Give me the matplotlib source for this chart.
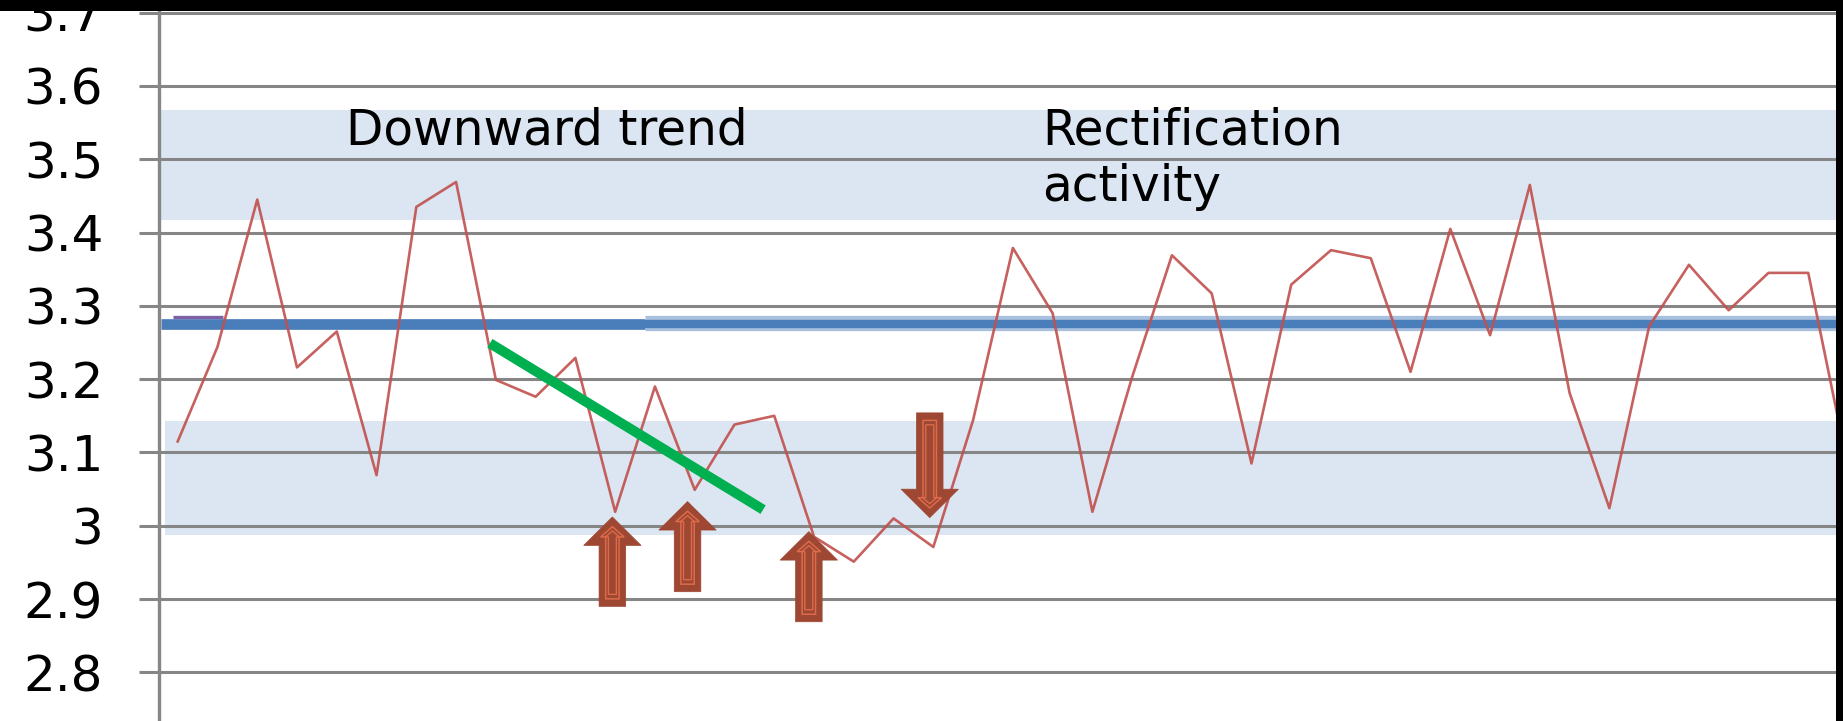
import matplotlib
matplotlib.use("Agg")
import matplotlib.pyplot as plt
from matplotlib.patches import Polygon, Rectangle
from matplotlib.ticker import FuncFormatter

# weekly readings (red line), one per category position
values = [3.115, 3.244, 3.445, 3.216, 3.265, 3.069, 3.435, 3.469, 3.199, 3.176,
          3.229, 3.019, 3.190, 3.049, 3.138, 3.150, 2.985, 2.951, 3.010, 2.971,
          3.144, 3.379, 3.290, 3.019, 3.203, 3.369, 3.317, 3.085, 3.329, 3.376,
          3.365, 3.210, 3.405, 3.260, 3.465, 3.181, 3.024, 3.272, 3.356, 3.294,
          3.345, 3.345, 3.080]
center_level = 3.275
purple_level = 3.285
upper_band = (3.417, 3.567)
lower_band = (2.987, 3.143)
yticks = [2.8, 2.9, 3.0, 3.1, 3.2, 3.3, 3.4, 3.5, 3.6, 3.7]

# trend line over the dip
trend_x = [7.85, 14.72]
trend_y = [3.249, 3.022]

# block arrows: (position, tip value, tail value)
up_arrows = [(10.93, 3.012, 2.890), (12.82, 3.033, 2.910), (15.87, 2.992, 2.869)]
down_arrows = [(18.91, 3.011, 3.154)]

W, H, DPI = 1843, 721, 100
fig = plt.figure(figsize=(W / DPI, H / DPI), dpi=DPI, facecolor="white")
left = 159.3 / W
ax = fig.add_axes([left, 0, 1 - left, 1])
ax.set_xlim(-0.4627, 41.874)
ax.set_ylim(2.7336, 3.7173)

grey = "#868686"
ax.set_yticks(yticks)
ax.yaxis.set_major_formatter(FuncFormatter(lambda v, p: "%g" % round(v, 1)))
ax.tick_params(axis="y", direction="out", length=14.4, width=2.2, color=grey,
               labelsize=36, pad=26, labelcolor="black")
ax.set_xticks([])
ax.grid(axis="y", color=grey, linewidth=2.2)
ax.set_axisbelow(True)
for s in ["top", "right", "bottom"]:
    ax.spines[s].set_visible(False)
ax.spines["left"].set_color(grey)
ax.spines["left"].set_linewidth(2.4)

# shaded zones
ax.fill_between([-0.596, 42.5], upper_band[0], upper_band[1], color="#DCE6F2", lw=0, zorder=0.2)
ax.fill_between([-0.319, 42.5], lower_band[0], lower_band[1], color="#DCE6F2", lw=0, zorder=0.2)

# centre line
ax.plot([-0.43, 11.75], [center_level] * 2, color="#4A7EBB", lw=7.7, solid_capstyle="butt", zorder=2)
ax.plot([11.75, 42.5], [center_level + 0.002] * 2, color="#A7C0DE", lw=11, solid_capstyle="butt", zorder=2)
ax.plot([11.75, 42.5], [center_level] * 2, color="#4A7EBB", lw=6, solid_capstyle="butt", zorder=2.1)
ax.plot([-0.13, 1.14], [purple_level] * 2, color="#7E60A6", lw=2.4, solid_capstyle="butt", zorder=2.2)

ax.plot(range(len(values)), values, color="#C0504D", lw=1.9, alpha=0.9, zorder=3)
ax.plot(trend_x, trend_y, color="#00B050", lw=7.2, solid_capstyle="butt", zorder=4)

ax.text(4.23, 3.5198, "Downward trend", fontsize=35, va="baseline", ha="left", zorder=5)
ax.text(21.73, 3.5198, "Rectification", fontsize=35, va="baseline", ha="left", zorder=5)
ax.text(21.73, 3.443, "activity", fontsize=35, va="baseline", ha="left", zorder=5)


def arrow_shape(tx, ty, s, tip, hl, hw, sw, end):
    pts = [(0, tip), (hw, hl), (sw, hl), (sw, end), (-sw, end), (-sw, hl), (-hw, hl)]
    return [(tx + w, ty + s * u) for w, u in pts]


def block_arrow(x, tip, tail):
    tx, ty = ax.transData.transform((x, tip))
    _, by = ax.transData.transform((x, tail))
    s = 1 if by > ty else -1
    length = abs(by - ty)
    outer = arrow_shape(tx, ty, s, 0, 28.5, 28.7, 13.3, length)
    fig.patches.append(Polygon(outer, closed=True, facecolor="#9E4732", edgecolor="#9E4732",
                               lw=0.5, transform=None, figure=fig, zorder=6))
    inner = arrow_shape(tx, ty, s, 9.7, 20, 11.7, 6.7, length - 7.5)
    fig.patches.append(Polygon(inner, closed=True, fill=False, edgecolor="#DB6B4A",
                               lw=1.1, transform=None, figure=fig, zorder=6))
    core = arrow_shape(tx, ty, s, 14, 20, 7, 4, length - 12)
    fig.patches.append(Polygon(core, closed=True, fill=False, edgecolor="#DB6B4A",
                               lw=1.0, transform=None, figure=fig, zorder=6))


for x, tip, tail in up_arrows + down_arrows:
    block_arrow(x, tip, tail)

# dark frame edges
fig.patches.append(Rectangle((0, 1 - 10.7 / H), 1, 10.7 / H, transform=fig.transFigure,
                             facecolor="black", edgecolor="none", figure=fig, zorder=10))
fig.patches.append(Rectangle((1836 / W, 0), 1 - 1836 / W, 1, transform=fig.transFigure,
                             facecolor="black", edgecolor="none", figure=fig, zorder=10))

fig.savefig("out.png", dpi=DPI)
